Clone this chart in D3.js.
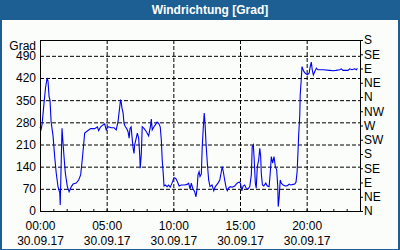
<!DOCTYPE html>
<html>
<head>
<meta charset="utf-8">
<script src="https://cdn.jsdelivr.net/npm/d3@7"></script>
<style>
body{margin:0;background:#fff}
</style>
</head>
<body>
<svg width="400" height="250" font-family="Liberation Sans, Arial, sans-serif" font-size="12"></svg>
<script>
// minutes since 00:00 on 30.09.17
const minutes = [0,5,9,18,25,32,36,41,45,50,59,66,73,81,89,91,99,108,114,123,131,141,149,163,174,183,190,197,201,216,228,246,258,264,273,284,291,298,306,321,333,343,351,359,362,365,369,374,378,384,389,396,401,405,410,414,419,423,426,433,438,444,449,451,456,460,468,478,489,498,501,505,513,519,527,534,541,546,550,555,558,564,572,579,586,594,603,611,618,626,636,651,662,669,675,681,687,696,702,707,711,716,720,726,730,735,739,743,747,753,759,765,774,782,789,801,809,816,820,825,831,838,843,848,856,865,876,883,891,899,903,908,914,921,928,936,944,951,955,960,964,969,973,978,984,989,993,996,1001,1007,1016,1023,1031,1036,1041,1047,1053,1059,1065,1070,1072,1076,1081,1086,1094,1104,1114,1121,1128,1139,1146,1152,1157,1161,1164,1169,1171,1175,1179,1184,1188,1194,1203,1211,1216,1221,1225,1230,1236,1244,1251,1274,1304,1319,1332,1349,1356,1364,1386,1394,1404,1416,1424,1428];
const direction = [265,258,272,340,390,420,410,360,350,282,235,172,120,77,57,19,261,172,120,77,61,77,85,88,98,114,161,214,246,254,260,260,266,254,266,272,275,256,266,263,263,256,282,330,349,345,325,309,277,266,262,251,230,261,266,235,198,182,209,230,246,230,172,135,182,266,261,251,237,272,290,256,266,272,281,277,266,224,161,114,79,82,77,82,75,88,105,103,93,79,82,82,84,88,69,88,72,61,45,72,114,124,109,117,203,266,309,272,214,151,98,77,82,64,77,88,98,124,140,124,98,72,64,72,77,75,79,85,90,91,85,64,79,82,72,69,77,114,203,209,161,88,72,140,161,198,172,117,82,79,88,79,77,119,172,151,172,140,130,77,14,40,98,88,82,79,80,85,82,84,85,91,124,188,240,303,367,409,456,446,440,435,430,435,456,470,446,430,440,451,446,446,444,443,444,446,449,444,444,449,446,449,446,451];

const gradTicks = [0,70,140,210,280,350,420,490];
const compassTicks = [0,45,90,135,180,225,270,315,360,405,450,495,540];
const compassLabels = ['N','NE','E','SE','S','SW','W','NW','N','NE','E','SE','S'];
const hourLabels = ['00:00','05:00','10:00','15:00','20:00'];
const dateLabel = '30.09.17';
const title = 'Windrichtung [Grad]';

const data = minutes.map((m, i) => ({t: m, v: direction[i]}));

const svg = d3.select('svg');
const width = +svg.attr('width');
const height = +svg.attr('height');

// frame + title bar
svg.append('rect').attr('width', width).attr('height', height).attr('fill', '#1d5f93');
svg.append('rect').attr('x', 2).attr('y', 20).attr('width', width - 4).attr('height', height - 21).attr('fill', '#fbfdfb');
svg.append('text')
    .attr('x', 210).attr('y', 14)
    .attr('text-anchor', 'middle')
    .attr('fill', '#fff').attr('font-weight', 'bold')
    .text(title);

const margin = {top: 40, right: 40, bottom: 39, left: 40};
const innerWidth = width - margin.left - margin.right;
const innerHeight = height - margin.top - margin.bottom;

const g = svg.append('g').attr('transform', `translate(${margin.left},${margin.top})`);

const xScale = d3.scaleLinear().domain([0, 1440]).range([0, innerWidth]);
const yScale = d3.scaleLinear().domain([0, 540]).range([innerHeight, 0]);

const hourFmt = m => hourLabels[m / 300];

// axis font settings, same as the rest of the chart
const font = sel => sel.attr('font-size', 12).attr('font-family', 'Liberation Sans, Arial, sans-serif');

// grid lines
g.append('g').attr('class', 'grid')
    .call(d3.axisBottom(xScale).tickValues([300, 600, 900, 1200]).tickSize(innerHeight).tickFormat(''));
g.append('g').attr('class', 'grid')
    .call(d3.axisLeft(yScale).tickValues(gradTicks.slice(1)).tickSize(-innerWidth).tickFormat(''));
svg.selectAll('.grid .domain').remove();
svg.selectAll('.grid text').remove();
svg.selectAll('.grid line').attr('stroke', '#000').attr('stroke-dasharray', '4,2');

// line
g.append('path')
    .datum(data)
    .attr('fill', 'none')
    .attr('stroke', '#0000f0')
    .attr('stroke-width', 1.1)
    .attr('d', d3.line().x(d => xScale(d.t)).y(d => yScale(d.v)));

// plot border
g.append('rect')
    .attr('width', innerWidth).attr('height', innerHeight)
    .attr('fill', 'none').attr('stroke', '#000').attr('shape-rendering', 'crispEdges');

// left axis
const yAxisG = g.append('g').call(d3.axisLeft(yScale).tickValues(gradTicks).tickSize(0).tickPadding(4)).call(font);
yAxisG.select('.domain').remove();
g.append('text').attr('x', -4).attr('y', 10).attr('text-anchor', 'end').text('Grad');

// right axis
const rAxisG = g.append('g')
    .attr('transform', `translate(${innerWidth},0)`)
    .call(d3.axisRight(yScale).tickValues(compassTicks).tickSize(3).tickPadding(1).tickFormat((d, i) => compassLabels[i]))
    .call(font);
rAxisG.select('.domain').remove();

// bottom minor ticks
const minorG = g.append('g')
    .attr('transform', `translate(0,${innerHeight})`)
    .call(d3.axisBottom(xScale).tickValues(d3.range(60, 1440, 60)).tickSize(-2).tickFormat(''));
minorG.select('.domain').remove();
minorG.selectAll('text').remove();

// bottom labels
const xAxisG = g.append('g')
    .attr('transform', `translate(0,${innerHeight})`)
    .call(d3.axisBottom(xScale).tickValues([0, 300, 600, 900, 1200]).tickSize(0).tickPadding(10).tickFormat(hourFmt))
    .call(font);
xAxisG.select('.domain').remove();
xAxisG.selectAll('.tick').append('text')
    .attr('y', 25).attr('dy', '0.71em')
    .attr('fill', '#000')
    .text(dateLabel);
</script>
</body>
</html>
